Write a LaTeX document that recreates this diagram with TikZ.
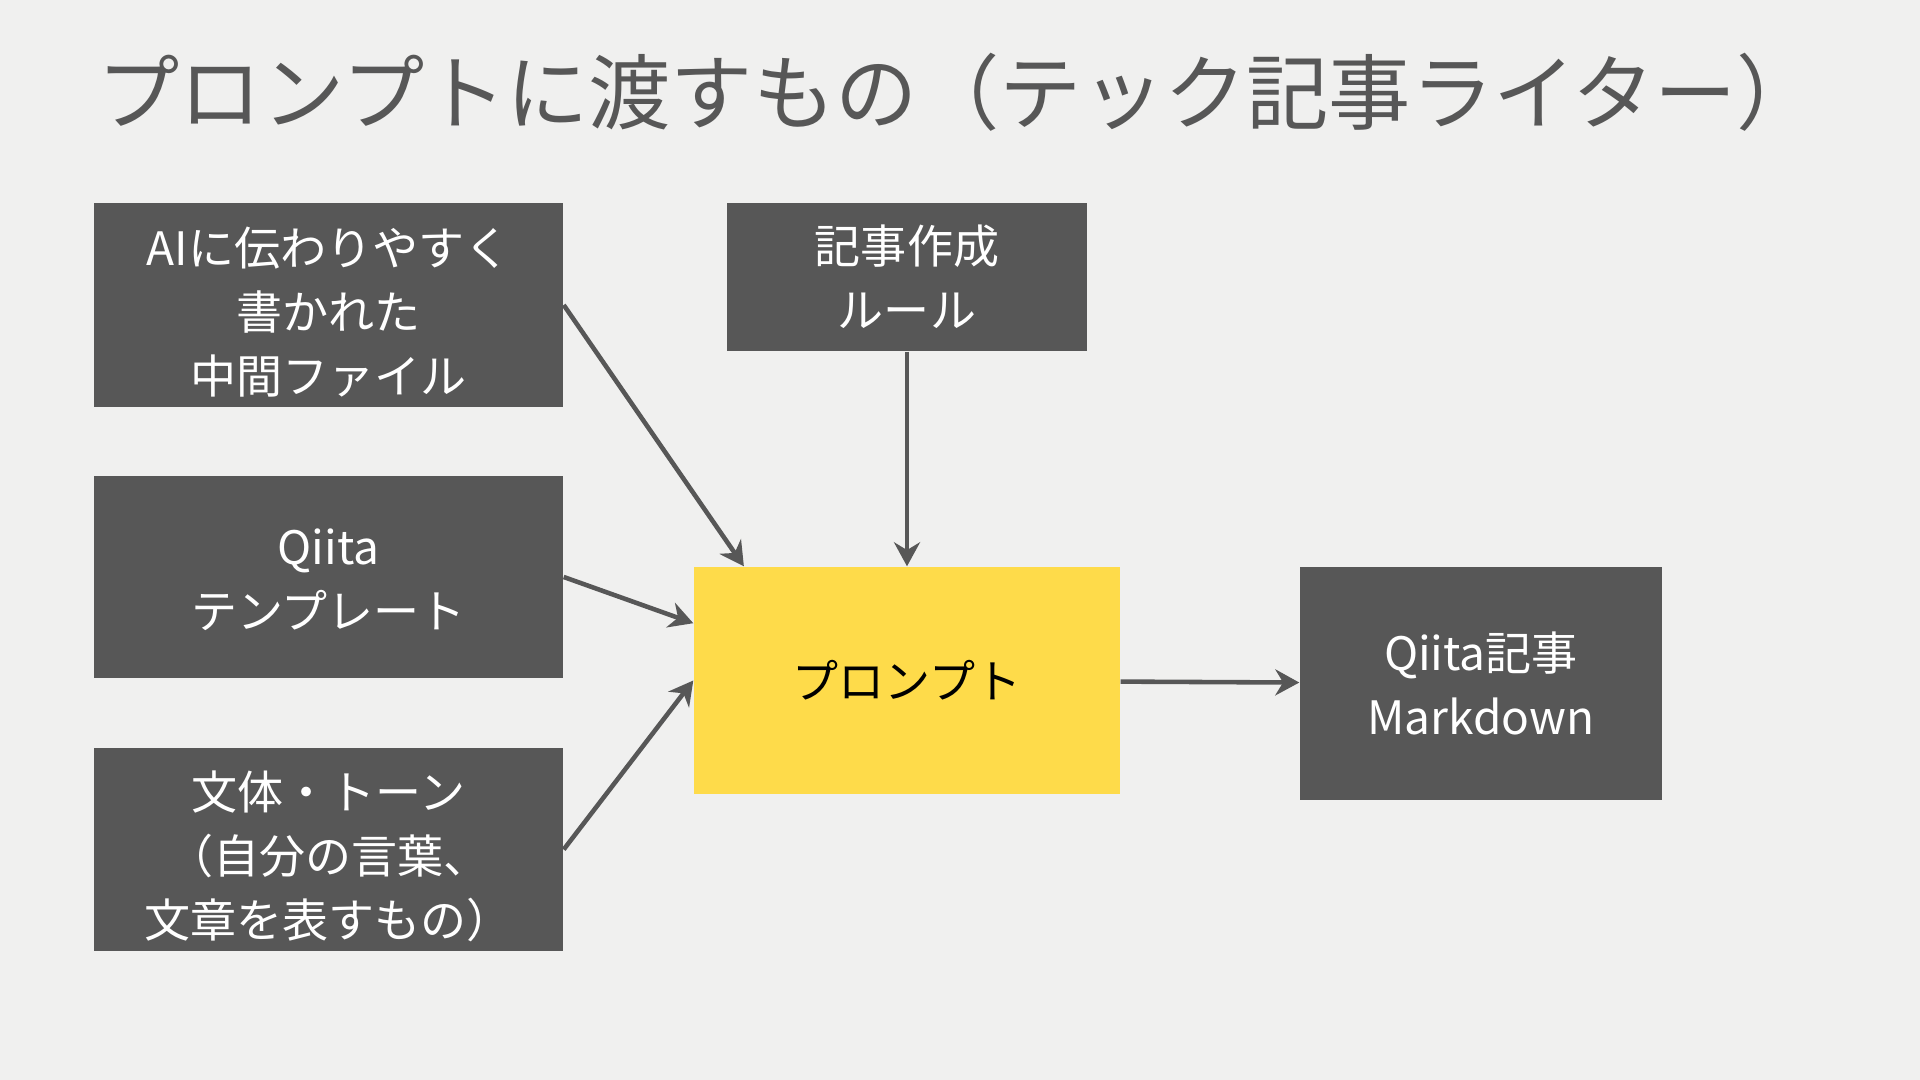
\documentclass[tikz,border=0pt]{standalone}
\usepackage{fontspec}
\setmainfont{Noto Sans CJK JP}
\usetikzlibrary{arrows.meta, positioning}
\definecolor{mgray}{HTML}{575757}
\definecolor{myellow}{HTML}{FEDB4A}
\definecolor{mpaper}{HTML}{F0F0EF}
\newcommand{\topgap}[1]{\rule{0pt}{#1}}

\begin{document}
\begin{tikzpicture}[
  box/.style={rectangle,fill=mgray,text=white,inner sep=0pt,align=center,
              font=\fontsize{13.1}{18.2}\selectfont},
  prm/.style={rectangle,fill=myellow,text=black,inner sep=0pt,align=center,
              font=\fontsize{13.1}{18.2}\selectfont},
  arr/.style={-{Stealth[length=2.4mm,width=2.6mm]},mgray,line width=1.3pt}
]
\fill[mpaper] (0,0) rectangle (19.2,10.8);
\useasboundingbox (0,0) rectangle (19.2,10.8);

\node[anchor=west,inner sep=0pt,text=mgray,font=\fontsize{23.4}{28}\selectfont] (title)
  at (0.97,9.88) {プロンプトに渡すもの（テック記事ライター）};

% inputs
\node[box,minimum width=4.69cm,minimum height=2.04cm] (mid)  at (3.285,7.75)  {\topgap{0.52cm}AIに伝わりやすく\\書かれた\\中間ファイル};
\node[box,minimum width=4.69cm,minimum height=2.02cm] (tmpl) at (3.285,5.03)  {\topgap{0.41cm}Qiita\\テンプレート};
\node[box,minimum width=4.69cm,minimum height=2.03cm] (tone) at (3.285,2.305) {\topgap{0.52cm}文体・トーン\\（自分の言葉、\\文章を表すもの）};
\node[box,minimum width=3.6cm,minimum height=1.48cm]  (rule) at (9.07,8.03)   {記事作成\\ルール};

% prompt and result
\node[prm,minimum width=4.26cm,minimum height=2.27cm] (prompt) at (9.07,3.995) {プロンプト};
\node[box,minimum width=3.62cm,minimum height=2.33cm] (out)    at (14.81,3.965) {Qiita記事\\Markdown};

\draw[arr] (mid.east)  -- (prompt.145);
\draw[arr] (tmpl.east) -- (prompt.165);
\draw[arr] (tone.east) -- (prompt.west);
\draw[arr] (rule)      -- (prompt);
\draw[arr] (prompt)    -- (out);
\end{tikzpicture}
\end{document}
